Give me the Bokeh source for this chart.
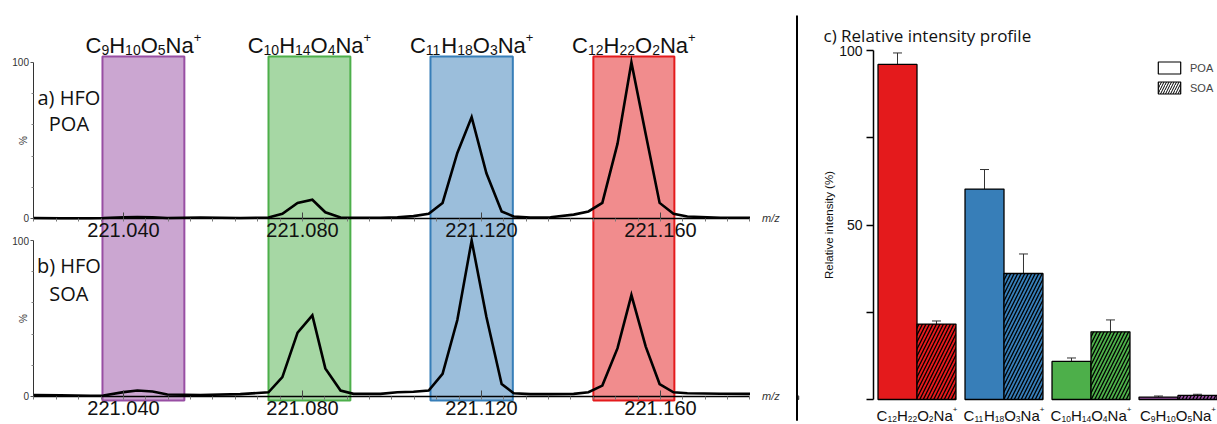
import numpy as np
from bokeh.plotting import figure
from bokeh.models import (Range1d, LinearAxis, FixedTicker, PrintfTickFormatter,
                          ColumnDataSource, Whisker, TeeHead, Legend, LegendItem)
from bokeh.layouts import row
from bokeh.embed import file_html
from bokeh.resources import INLINE
from bokeh.core.properties import value

# ---------------- data ----------------
ions = ["C9H10O5Na+", "C10H14O4Na+", "C11H18O3Na+", "C12H22O2Na+"]
ion_colors = ["#984EA3", "#4DAF4A", "#377EB8", "#E41A1C"]
ion_fills = ["#CBA6D1", "#A6D7A4", "#9BBEDB", "#F18C8D"]
window_lo = [221.0353, 221.0724, 221.1086, 221.1450]
window_hi = [221.0536, 221.0907, 221.1270, 221.1631]

mz = [221.0200, 221.0259, 221.0326, 221.0355, 221.0400, 221.0431, 221.0465, 221.0498,
      221.0572, 221.0661, 221.0724, 221.0755, 221.0789, 221.0822, 221.0851, 221.0885,
      221.0914, 221.0974, 221.1012, 221.1048, 221.1082, 221.1113, 221.1146, 221.1178,
      221.1211, 221.1245, 221.1272, 221.1309, 221.1354, 221.1406, 221.1439, 221.1470,
      221.1504, 221.1535, 221.1567, 221.1598, 221.1629, 221.1660, 221.1734, 221.1800]
poa_intensity = [0.3, 0.2, 0.2, 0.3, 0.8, 1.0, 0.8, 0.3, 0.6, 0.3,
                 0.6, 3.0, 10.0, 12.0, 4.0, 0.6, 0.5, 0.5, 0.8, 1.5,
                 3.0, 10.0, 42.0, 65.0, 29.0, 4.5, 1.3, 0.6, 0.8, 2.5,
                 4.5, 10.0, 48.0, 100.0, 54.0, 10.0, 3.0, 1.3, 0.5, 0.5]
soa_intensity = [1.0, 0.8, 0.5, 0.6, 2.8, 3.8, 3.2, 1.3, 1.0, 1.5,
                 2.7, 12.4, 41.0, 52.0, 18.0, 3.8, 1.7, 1.7, 2.7, 3.0,
                 3.8, 14.5, 49.0, 100.0, 51.0, 8.0, 2.1, 1.5, 1.5, 1.7,
                 2.7, 7.0, 31.0, 65.0, 32.0, 8.0, 2.7, 2.1, 1.8, 1.7]
mz_ticks = [221.040, 221.080, 221.120, 221.160]
mz_bounds = (221.020, 221.180)
panel_labels = [("a) HFO", "POA"), ("b) HFO", "SOA")]

bar_ions = ["C12H22O2Na+", "C11H18O3Na+", "C10H14O4Na+", "C9H10O5Na+"]
bar_colors = ["#E41A1C", "#377EB8", "#4DAF4A", "#984EA3"]
poa_rel = [96.0, 60.3, 10.9, 0.7]
poa_err = [3.3, 5.6, 1.0, 0.3]
soa_rel = [21.6, 36.1, 19.4, 1.2]
soa_err = [0.9, 5.6, 3.4, 0.3]

# ---------------- helpers ----------------
ARIAL_W = {'C': 0.722, 'H': 0.722, 'O': 0.778, 'N': 0.722, 'a': 0.556, '+': 0.584}


def split_formula(f):
    parts, i = [], 0
    while i < len(f):
        ch = f[i]
        if ch.isdigit():
            j = i
            while j < len(f) and f[j].isdigit():
                j += 1
            parts.append((f[i:j], "sub"))
            i = j
        elif ch == "+":
            parts.append(("+", "sup"))
            i += 1
        else:
            j = i
            while j < len(f) and not f[j].isdigit() and f[j] != "+":
                j += 1
            parts.append((f[i:j], "base"))
            i = j
    return parts


def formula_rows(formulas, xs, y, sizes, shifts):
    rows = dict(x=[], y=[], text=[], xo=[], yo=[], fs=[])
    for f, x in zip(formulas, xs):
        segs = split_formula(f)
        widths = [sum(ARIAL_W.get(c, 0.556) for c in t) * sizes[k] for t, k in segs]
        off = -sum(widths) / 2.0
        for (t, k), w in zip(segs, widths):
            rows["x"].append(x)
            rows["y"].append(y)
            rows["text"].append(t)
            rows["xo"].append(off)
            rows["yo"].append(shifts[k])
            rows["fs"].append(f"{sizes[k]}px")
            off += w
    return ColumnDataSource(rows)


# ---------------- left: spectra ----------------
p1 = figure(width=798, height=424, output_backend="svg", toolbar_location=None,
            x_range=Range1d(221.012514, 221.190838), y_range=Range1d(-17.95, 253.85),
            x_axis_type=None, y_axis_type=None, min_border=0, outline_line_color=None)
p1.extra_y_ranges = {"top": Range1d(-132.05, 139.74)}

p1.quad(left=window_lo, right=window_hi, bottom=-2.56, top=217.95,
        fill_color=ion_fills, line_color=ion_colors, line_width=2)

p1.line(mz, poa_intensity, y_range_name="top", line_color="black", line_width=2.6,
        line_join="miter")
p1.line(mz, soa_intensity, line_color="black", line_width=2.6, line_join="miter")

minor = [round(v, 3) for v in np.arange(mz_bounds[0], mz_bounds[1] + 1e-6, 0.005)]
for rname in ("top", "default"):
    ax = LinearAxis(y_range_name=rname, fixed_location=0, bounds=mz_bounds,
                    ticker=FixedTicker(ticks=mz_ticks, minor_ticks=minor),
                    formatter=PrintfTickFormatter(format="%.3f"))
    ax.axis_line_color = "black"
    ax.axis_line_width = 1.5
    ax.major_tick_in = 6
    ax.major_tick_out = 0
    ax.minor_tick_in = 0
    ax.minor_tick_out = 3
    ax.major_tick_line_color = "#444"
    ax.minor_tick_line_color = "#777"
    ax.major_label_text_font = "Liberation Sans"
    ax.major_label_text_font_size = "20px"
    ax.major_label_text_color = "#111"
    ax.major_label_standoff = 2
    p1.add_layout(ax, "below")

    ay = LinearAxis(y_range_name=rname, fixed_location=mz_bounds[0], bounds=(0, 100),
                    ticker=FixedTicker(ticks=[0, 100], minor_ticks=[20, 40, 60, 80]),
                    axis_label="%")
    ay.axis_line_color = "#333"
    ay.axis_line_width = 1
    ay.major_tick_in = 0
    ay.major_tick_out = 3
    ay.minor_tick_in = 0
    ay.minor_tick_out = 2
    ay.major_tick_line_color = "#555"
    ay.minor_tick_line_color = "#888"
    ay.major_label_text_font = "Liberation Sans"
    ay.major_label_text_font_size = "10px"
    ay.major_label_text_color = "#333"
    ay.major_label_standoff = 2
    ay.axis_label_text_font = "Liberation Sans"
    ay.axis_label_text_font_size = "10px"
    ay.axis_label_text_font_style = "normal"
    ay.axis_label_text_color = "#333"
    ay.axis_label_standoff = -20
    p1.add_layout(ay, "left")

    kw = {} if rname == "default" else {"y_range_name": rname}
    p1.text(x=[mz_bounds[1]], y=[0], text=["m/z"], x_offset=12, text_baseline="middle",
            text_align="left", text_font=value("Liberation Sans"), text_font_size="11px",
            text_font_style="italic", text_color="#333", **kw)

# formula labels above the windows
win_centers = [(a + b) / 2 for a, b in zip(window_lo, window_hi)]
src_top = formula_rows(ions, win_centers, 110.9,
                       {"base": 22, "sub": 14, "sup": 13},
                       {"base": 0, "sub": 5, "sup": -8})
p1.text(x="x", y="y", text="text", x_offset="xo", y_offset="yo", text_font_size="fs",
        text_font=value("Liberation Sans"), text_align="left", text_baseline="alphabetic",
        text_color="#111", source=src_top, y_range_name="top")

# panel labels
lab_x = 221.0278
p1.text(x=[lab_x, lab_x], y=[77.6, 60.9], text=list(panel_labels[0]), text_align="center",
        text_baseline="alphabetic", text_font=value("Open Sans"), text_font_size="20px",
        text_color="#111", y_range_name="top")
p1.text(x=[lab_x, lab_x], y=[84.0, 66.2], text=list(panel_labels[1]), text_align="center",
        text_baseline="alphabetic", text_font=value("Open Sans"), text_font_size="20px",
        text_color="#111")

# divider
div_x = 221.190615
p1.segment(x0=[div_x], y0=[-15.5], x1=[div_x], y1=[244.2], line_color="black", line_width=3)

# ---------------- right: bar chart ----------------
p2 = figure(width=419, height=424, output_backend="svg", toolbar_location=None,
            x_range=Range1d(-1.36207, 3.45402), y_range=Range1d(-7.163, 114.33),
            x_axis_type=None, y_axis_type=None, min_border=0, outline_line_color=None)

half = 0.224
xs = list(range(len(bar_ions)))
poa_x = [i - half for i in xs]
soa_x = [i + half for i in xs]
src = ColumnDataSource(dict(
    poa_x=poa_x, soa_x=soa_x, poa=poa_rel, soa=soa_rel, color=bar_colors,
    poa_lo=[v - e for v, e in zip(poa_rel, poa_err)], poa_hi=[v + e for v, e in zip(poa_rel, poa_err)],
    soa_lo=[v - e for v, e in zip(soa_rel, soa_err)], soa_hi=[v + e for v, e in zip(soa_rel, soa_err)],
))
p2.vbar(x="poa_x", top="poa", bottom=0, width=2 * half, fill_color="color",
        line_color="black", line_width=1.3, source=src)
p2.vbar(x="soa_x", top="soa", bottom=0, width=2 * half, fill_color="color",
        line_color="black", line_width=1.3, hatch_pattern="/", hatch_color="black",
        hatch_scale=7, hatch_weight=1.3, source=src)

for b, lo, hi in (("poa_x", "poa_lo", "poa_hi"), ("soa_x", "soa_lo", "soa_hi")):
    w = Whisker(base=b, lower=lo, upper=hi, source=src, line_color="#333", line_width=1,
                upper_head=TeeHead(size=9, line_color="#333", line_width=1),
                lower_head=TeeHead(size=9, line_color="#333", line_width=1))
    p2.add_layout(w)

yax = LinearAxis(fixed_location=-0.5, bounds=(0, 100),
                 ticker=FixedTicker(ticks=[0, 25, 50, 75, 100]),
                 major_label_overrides={0: " ", 25: " ", 75: " "},
                 axis_label="Relative intensity (%)")
yax.axis_line_color = "black"
yax.axis_line_width = 1.5
yax.major_tick_in = 0
yax.major_tick_out = 7
yax.major_tick_line_width = 1.5
yax.major_label_text_font = "Liberation Sans"
yax.major_label_text_font_size = "14px"
yax.major_label_text_color = "#111"
yax.major_label_standoff = 4
yax.axis_label_text_font = "Liberation Sans"
yax.axis_label_text_font_size = "11.5px"
yax.axis_label_text_font_style = "normal"
yax.axis_label_text_color = "#111"
yax.axis_label_standoff = 1
p2.add_layout(yax, "left")

src_bar = formula_rows(bar_ions, xs, -4.6,
                       {"base": 15, "sub": 8.5, "sup": 8},
                       {"base": 0, "sub": 3, "sup": -6.5})
p2.text(x="x", y="y", text="text", x_offset="xo", y_offset="yo", text_font_size="fs",
        text_font=value("Liberation Sans"), text_align="left", text_baseline="alphabetic",
        text_color="#111", source=src_bar)

p2.text(x=[-1.0747], y=[104.3], text=["c) Relative intensity profile"], text_align="left",
        text_baseline="alphabetic", text_font=value("Open Sans"), text_font_size="17px",
        text_color="#111")

# legend swatches (renderers placed outside the visible range)
r_poa = p2.vbar(x=[-50], top=[1], bottom=[0], width=0.4, fill_color="white",
                line_color="black", line_width=1.2)
r_soa = p2.vbar(x=[-50], top=[1], bottom=[0], width=0.4, fill_color="white",
                line_color="black", line_width=1.2, hatch_pattern="/", hatch_color="black",
                hatch_scale=5, hatch_weight=1.0)
legend = Legend(items=[LegendItem(label="POA", renderers=[r_poa]),
                       LegendItem(label="SOA", renderers=[r_soa])],
                location=(357, 329), padding=0, margin=0, spacing=5,
                glyph_width=28, glyph_height=15, label_standoff=7,
                label_text_font="Liberation Sans", label_text_font_size="11px",
                border_line_color=None, background_fill_alpha=0)
p2.add_layout(legend)

layout = row(p1, p2)
open("out.html", "w").write(file_html(layout, INLINE))
